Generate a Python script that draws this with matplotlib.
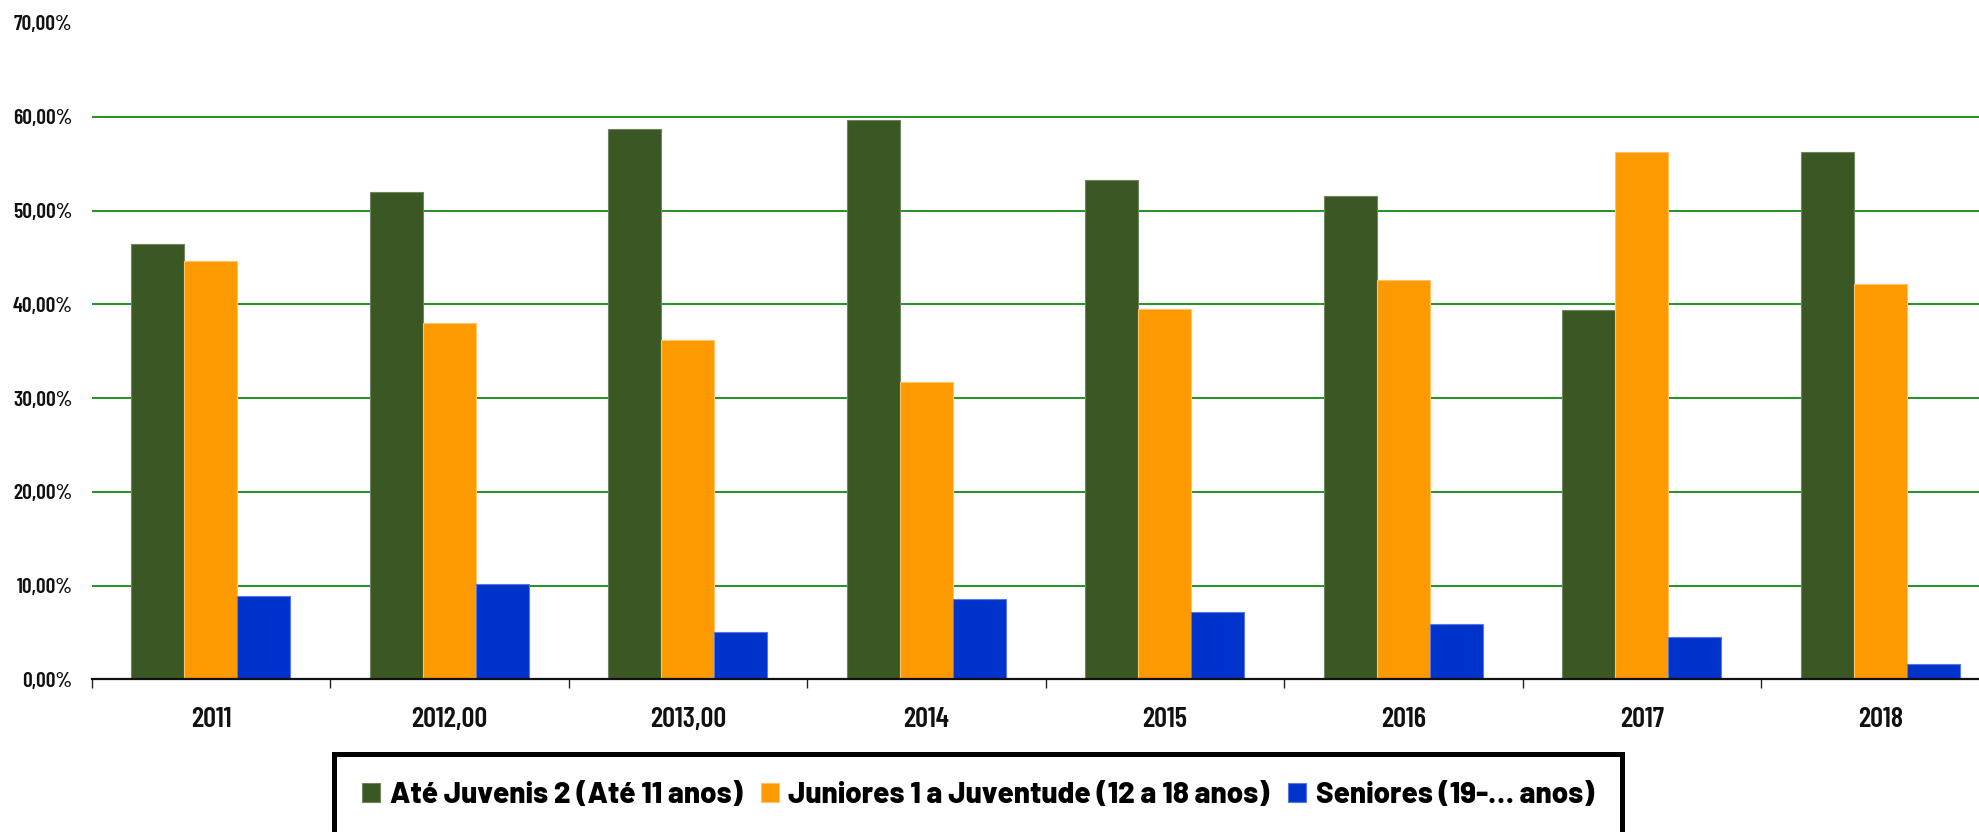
import matplotlib
matplotlib.use("Agg")
import matplotlib.pyplot as plt
import numpy as np
from matplotlib.ticker import FixedLocator, FuncFormatter

plt.rcParams['font.family'] = ['Barlow Condensed', 'DejaVu Sans']

# ===== dados =====
anos = ["2011", "2012,00", "2013,00", "2014", "2015", "2016", "2017", "2018"]
ate_juvenis = [46.38, 51.93, 58.72, 59.61, 53.28, 51.57, 39.34, 56.19]
juniores = [44.60, 37.99, 36.21, 31.69, 39.48, 42.54, 56.19, 42.15]
seniores = [8.90, 10.14, 5.07, 8.61, 7.19, 5.89, 4.47, 1.66]

series = [
    ("Até Juvenis 2 (Até 11 anos)", ate_juvenis, "#3a5724", "#6f8560"),
    ("Juniores 1 a Juventude (12 a 18 anos)", juniores, "#fd9a00", "#ffc46a"),
    ("Seniores (19-… anos)", seniores, "#0032cc", "#5a78e0"),
]

W, H = 1979, 832
fig = plt.figure(figsize=(W / 100, H / 100), dpi=100)

# eixo ligeiramente maior que a figura (o original está cortado à direita)
left, right = 91.7, 91.7 + 8 * 238.5
bottom, top = 679.3, 23.0
ax = fig.add_axes([left / W, (H - bottom) / H, (right - left) / W, (bottom - top) / H])

x = np.arange(len(anos))
bw = 1 / 4.5
handles = []
for i, (nome, vals, cor, borda) in enumerate(series):
    b = ax.bar(x + (i - 1) * bw, vals, width=bw, color=cor, edgecolor=borda,
               linewidth=0.8, label=nome, zorder=3)
    handles.append(b)

ax.set_xlim(-0.5, len(anos) - 0.5)
ax.set_ylim(0, 70)

# grelha verde
for v in range(10, 70, 10):
    ax.axhline(v, color="#138a13", linewidth=1.3, zorder=1)

ax.yaxis.set_major_locator(FixedLocator(range(0, 80, 10)))
ax.yaxis.set_major_formatter(FuncFormatter(lambda v, p: f"{v:.2f}".replace(".", ",") + "%"))
ax.tick_params(axis="y", length=0, pad=14, labelsize=15.5, labelcolor="#111111")
for t in ax.get_yticklabels():
    t.set_fontweight("semibold")

ax.set_xticks(x)
ax.set_xticklabels(anos, fontweight="semibold")
ax.xaxis.set_minor_locator(FixedLocator(np.arange(-0.5, len(anos), 1.0)))
ax.tick_params(axis="x", which="major", length=0, pad=20, labelsize=20.5, labelcolor="#111111")
ax.tick_params(axis="x", which="minor", length=6.5, width=1.0, color="#222222")

for s in ["top", "right", "left"]:
    ax.spines[s].set_visible(False)
ax.spines["bottom"].set_linewidth(1.6)
ax.spines["bottom"].set_color("#111111")
ax.spines["bottom"].set_zorder(4)

# legenda
lx0, lx1, ltop = 334, 1622, 754
leg = fig.legend(
    handles=handles,
    loc="upper left",
    bbox_to_anchor=(lx0 / W, 0, (lx1 - lx0) / W, (H - ltop) / H),
    mode="expand",
    ncol=3,
    borderaxespad=0,
    frameon=True,
    framealpha=1,
    fancybox=False,
    edgecolor="black",
    handlelength=0.62,
    handleheight=0.62,
    handletextpad=0.32,
    columnspacing=0.6,
    borderpad=0.95,
    prop={"family": ["Barlow", "DejaVu Sans"], "size": 21.2, "weight": 800},
)
leg.get_frame().set_linewidth(3.6)

fig.savefig("out.png", dpi=100)
